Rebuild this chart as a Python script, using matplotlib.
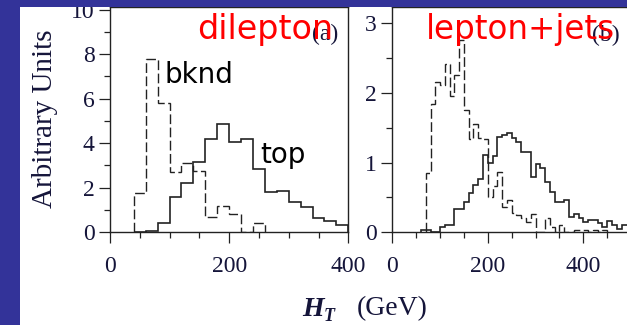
import numpy as np
import matplotlib.pyplot as plt
from matplotlib.patches import Rectangle
from matplotlib.ticker import MultipleLocator

# (a) dilepton, 20 GeV bins
dil_top_edges = np.arange(40, 401, 20)
dil_top = [0.0, 0.07, 0.43, 1.57, 2.2, 3.17, 4.19, 4.85, 4.07, 4.18,
           2.83, 1.8, 1.87, 1.35, 1.15, 0.63, 0.52, 0.33]
dil_bknd_edges = np.arange(40, 261, 20)
dil_bknd = [1.75, 7.78, 5.8, 2.72, 3.1, 2.75, 0.67, 1.2, 0.82, 0.0, 0.43]

# (b) lepton+jets, 10 GeV bins
lj_top_edges = np.arange(60, 501, 10)
lj_top = [0.03, 0.03, 0.0, 0.0, 0.07, 0.11, 0.11, 0.34, 0.33, 0.44,
          0.57, 0.68, 0.77, 1.11, 1.0, 1.1, 1.37, 1.40, 1.43, 1.35,
          1.30, 1.16, 1.16, 0.79, 0.98, 0.92, 0.72, 0.58, 0.44, 0.44,
          0.46, 0.22, 0.27, 0.2, 0.15, 0.17, 0.17, 0.14, 0.08, 0.16,
          0.10, 0.05, 0.11, 0.1]
lj_bknd_edges = np.arange(70, 451, 10)
lj_bknd = [0.85, 1.84, 2.16, 2.12, 2.42, 1.95, 2.26, 2.76, 1.75, 1.34,
           1.56, 1.35, 1.34, 0.51, 0.67, 0.87, 0.36, 0.47, 0.28, 0.25,
           0.2, 0.15, 0.27, 0.0, 0.0, 0.2, 0.07, 0.0, 0.1, 0.0,
           0.0, 0.03, 0.03, 0.03, 0.0, 0.03, 0.0, 0.03]

serif = 'Liberation Serif'
comic = 'DejaVu Sans'
ink = '#222222'
lab = '#15153a'
dash = (0, (7, 2.5))

fig = plt.figure(figsize=(6.27, 3.25), dpi=100)
fig.patch.set_facecolor('white')

ax1 = fig.add_axes([0.1754, 0.2852, 0.3801, 0.6923])
ax2 = fig.add_axes([0.6257, 0.2852, 0.3808, 0.6923])

def style(ax, xmaj, xmin, ymaj, ymin):
    ax.xaxis.set_major_locator(MultipleLocator(xmaj))
    ax.xaxis.set_minor_locator(MultipleLocator(xmin))
    ax.yaxis.set_major_locator(MultipleLocator(ymaj))
    ax.yaxis.set_minor_locator(MultipleLocator(ymin))
    ax.tick_params(which='both', direction='out', color=ink, width=0.9)
    ax.tick_params(which='major', length=8)
    ax.tick_params(which='minor', length=4.3)
    ax.tick_params(axis='y', pad=3)
    ax.tick_params(axis='x', pad=9)
    for t in ax.get_xticklabels() + ax.get_yticklabels():
        t.set_fontfamily(serif)
        t.set_fontsize(17)
        t.set_color(lab)
    for s in ax.spines.values():
        s.set_color(ink)
        s.set_linewidth(1.0)

ax1.stairs(dil_top, dil_top_edges, baseline=0, color=ink, lw=1.2)
ax1.stairs(dil_bknd, dil_bknd_edges, baseline=0, color=ink, lw=1.0,
           linestyle=dash)
ax1.set_xlim(0, 400)
ax1.set_ylim(0, 10.1)
style(ax1, 200, 50, 2, 1)

ax2.stairs(lj_top, lj_top_edges, baseline=0, color=ink, lw=1.2)
ax2.stairs(lj_bknd, lj_bknd_edges, baseline=0, color=ink, lw=1.0,
           linestyle=dash)
ax2.set_xlim(0, 500)
ax2.set_ylim(0, 3.23)
style(ax2, 200, 50, 1, 0.5)

# panel annotations
ax1.text(361, 8.87, '(a)', family=serif, fontsize=17, color=lab,
         ha='center', va='center', zorder=3)
ax1.text(145.5, 8.67, 'dilepton', family=comic, fontsize=24, color='red',
         ha='left', va='baseline', zorder=4)
ax1.text(92, 6.7, 'bknd', family=comic, fontsize=20, color='black',
         ha='left', va='baseline')
ax1.text(252, 3.1, 'top', family=comic, fontsize=20, color='black',
         ha='left', va='baseline')

ax2.text(448, 2.83, '(b)', family=serif, fontsize=17, color=lab,
         ha='center', va='center', zorder=3)
ax2.text(70.6, 2.78, 'lepton+jets', family=comic, fontsize=23.5, color='red',
         ha='left', va='baseline', zorder=4)

# axis titles
fig.text(0.071, 0.634, 'Arbitrary Units', family=serif, fontsize=21,
         color=lab, rotation=90, ha='center', va='center')
fig.text(0.4817, 0.0275, 'H', family=serif, fontsize=20, weight='bold',
         style='italic', color=lab, ha='left', va='baseline')
fig.text(0.517, 0.013, 'T', family=serif, fontsize=13, weight='bold',
         style='italic', color=lab, ha='left', va='baseline')
fig.text(0.569, 0.03, '(GeV)', family=serif, fontsize=20, color=lab,
         ha='left', va='baseline')

# slide border
band = '#333399'
fig.add_artist(Rectangle((0, 0), 19.5 / 627, 1, transform=fig.transFigure,
                         facecolor=band, edgecolor='none', zorder=10))
fig.add_artist(Rectangle((0, 1 - 7 / 325), 1, 7 / 325, transform=fig.transFigure,
                         facecolor=band, edgecolor='none', zorder=10))

fig.savefig('out.png', dpi=100)
